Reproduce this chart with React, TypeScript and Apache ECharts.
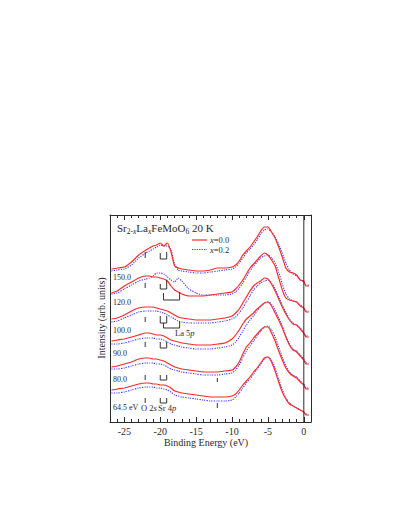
import React, { useEffect, useRef } from 'react';
import * as echarts from 'echarts';

// Binding energy grid (eV)
const energies = [-26.8, -26, -25, -24, -23, -22, -21.5, -21, -20.5, -20, -19.5, -19, -18.5, -18, -17.5, -17, -16, -15, -14, -13, -12, -11, -10, -9.5, -9, -8.5, -8, -7.5, -7, -6.5, -6, -5.5, -5, -4.5, -4, -3.5, -3, -2.5, -2, -1.5, -1, -0.5, 0, 0.3, 0.7];

// Photon energies (labels)
const photonLabels = ['150.0', '120.0', '100.0', '90.0', '80.0', '64.5 eV'];

// Intensities (arb. units, stacked), x = 0.0
const red150 = [153,154,155,160,167,172,174,176,177,179,176,179,170,156,154,153,152,151,151,152,154,154,155,157,161,167,171,175,180,185,191,195,195,190,184,175,165,154,150,149,147,142,141,136,136];
const red120 = [129,131,136,140,144,146,146,145,145,144,143,141,136,132,130,128,126,126,126,127,128,129,130,133,137,142,148,154,158,162,166,169,167,162,156,144,132,124,122,121,120,116,114,110,110];
const red100 = [103,104,107,111,114,115,115,115,114,113,112,111,109,107,105,104,103,102,102,102,103,104,106,109,113,119,125,131,136,139,141,144,143,138,131,123,115,108,102,98,97,93,89,85,85];
const red90 = [81,82,83,85,87,89,89,88,87,87,86,84,82,81,80,79,78,77,77,77,78,79,83,87,92,98,103,106,109,113,116,119,120,116,109,102,94,85,77,72,70,66,62,58,58];
const red80 = [55,56,58,60,63,64,64,63,63,62,61,59,57,55,54,53,52,51,50,50,50,51,52,55,60,68,75,79,84,88,92,95,95,89,81,71,62,54,49,46,44,40,37,33,33];
const red64 = [32,33,34,36,38,39,39,38,38,37,37,36,34,31,30,29,28,27,26,25,25,25,26,28,32,37,41,45,50,54,59,64,65,60,51,40,30,23,18,16,14,12,10,7,7];

// x = 0.2
const blue150 = [151,152,153,157,164,169,171,173,175,177,176,176,172,158,152,151,150,149,149,150,151,152,153,155,159,164,169,173,177,182,188,192,193,190,185,178,169,159,152,148,146,142,140,137,137];
const blue120 = [128,129,133,137,141,143,144,146,149,149,148,145,142,140,144,141,133,129,127,127,127,127,128,130,134,139,145,151,156,160,164,166,167,164,159,150,138,128,123,121,120,117,114,111,111];
const blue100 = [100,101,104,107,110,111,111,111,111,110,109,107,105,103,101,100,99,99,99,99,100,101,103,105,109,114,120,126,132,136,139,141,142,139,133,125,117,110,103,99,97,94,89,86,86];
const blue90 = [78,78,79,81,83,84,84,84,83,83,82,80,78,77,76,75,74,73,73,73,74,75,77,80,85,91,97,102,106,111,116,119,120,118,112,104,96,86,78,73,71,67,63,59,59];
const blue80 = [53,53,54,56,58,59,59,59,58,58,57,55,53,52,51,50,49,48,47,47,47,48,49,52,57,64,71,76,81,86,91,95,96,92,85,75,65,56,50,47,45,41,38,34,34];
const blue64 = [29,29,30,32,34,35,35,35,34,34,33,32,30,27,26,25,24,23,22,21,21,21,22,25,29,34,39,43,48,53,58,63,65,62,54,43,32,24,19,16,14,12,10,8,8];

const redSpectra = [red150, red120, red100, red90, red80, red64];
const blueSpectra = [blue150, blue120, blue100, blue90, blue80, blue64];

// Feature markers (energies in eV, intensity extents per spectrum)
const o2sEnergy = -22.1;
const o2sMarks = [[170, 164], [139, 134], [105, 100], [80, 75], [47, 42], [24, 19]];
const sr4pEnergies = [-20.0, -19.1];
const sr4pMarks = [[169, 163, 170], [138, 133, 142], [106, 99, 106], [80, 74, 80], [47, 42, 47], [24, 19, 24]];
const la5pEnergies = [-19.55, -17.3];
const la5pMarks = [[129, 122, 130], [99, 94, 100]];
const extraEnergy = -12.05;
const extraMarks = [[44, 40], [19, 14]];

// Axis ticks
const majorTicks = [-25, -20, -15, -10, -5, 0];
const minorTicks = [-26, -24, -23, -22, -21, -19, -18, -17, -16, -14, -13, -12, -11, -9, -8, -7, -6, -4, -3, -2, -1];

const legendNames = ['x=0.0', 'x=0.2'];

const SERIF = '"Liberation Serif", "DejaVu Serif", serif';
const INK = '#2a2a2a';
const RED = '#ff2a2a';
const BLUE = '#3b3bff';

export default function App() {
  const ref = useRef<HTMLDivElement>(null);
  useEffect(() => {
    if (!ref.current) return;
    const chart = echarts.init(ref.current, undefined, { renderer: 'svg' });

    const toPairs = (vals: number[]) => energies.map((e, i) => [e, vals[i]]);

    const markerCoords: any[] = [];
    o2sMarks.forEach(([t, b]) => markerCoords.push({ coords: [[o2sEnergy, t], [o2sEnergy, b]] }));
    sr4pMarks.forEach(([lt, b, rt]) =>
      markerCoords.push({ coords: [[sr4pEnergies[0], lt], [sr4pEnergies[0], b], [sr4pEnergies[1], b], [sr4pEnergies[1], rt]] })
    );
    la5pMarks.forEach(([lt, b, rt]) =>
      markerCoords.push({ coords: [[la5pEnergies[0], lt], [la5pEnergies[0], b], [la5pEnergies[1], b], [la5pEnergies[1], rt]] })
    );
    extraMarks.forEach(([t, b]) => markerCoords.push({ coords: [[extraEnergy, t], [extraEnergy, b]] }));

    const series: any[] = [];
    blueSpectra.forEach((s) =>
      series.push({
        name: legendNames[1],
        type: 'line',
        data: toPairs(s),
        showSymbol: false,
        symbol: 'none',
        smooth: 0.2,
        lineStyle: { color: BLUE, width: 1.1, type: [1.2, 1.2] },
        silent: true,
        z: 2,
      })
    );
    redSpectra.forEach((s) =>
      series.push({
        name: legendNames[0],
        type: 'line',
        data: toPairs(s),
        showSymbol: false,
        symbol: 'none',
        smooth: 0.2,
        lineStyle: { color: RED, width: 1.2 },
        silent: true,
        z: 3,
      })
    );
    series.push({
      type: 'lines',
      coordinateSystem: 'cartesian2d',
      polyline: true,
      silent: true,
      lineStyle: { color: '#333', width: 1, opacity: 1 },
      data: markerCoords,
      z: 4,
    });
    series.push({
      type: 'line',
      data: [[0, 0], [0, 207]],
      showSymbol: false,
      symbol: 'none',
      lineStyle: { color: INK, width: 1 },
      silent: true,
      z: 5,
    });

    const tickAxis = (pos: 'top' | 'bottom', values: number[], len: number, line: boolean, labels: boolean) => ({
      type: 'value',
      min: -27,
      max: 1,
      position: pos,
      axisLine: { show: line, onZero: false, lineStyle: { color: INK, width: 1 } },
      axisTick: { show: true, inside: true, length: len, customValues: values, lineStyle: { color: INK, width: 1 } },
      axisLabel: labels
        ? { show: true, customValues: values, fontFamily: SERIF, fontSize: 10, color: INK, margin: 4 }
        : { show: false },
      splitLine: { show: false },
    });

    const textEl = (x: number, y: number, text: string, opts: any = {}) => ({
      type: 'text',
      x,
      y,
      silent: true,
      style: {
        text,
        fill: INK,
        fontFamily: SERIF,
        fontSize: 8,
        textAlign: 'left',
        textVerticalAlign: 'middle',
        ...opts,
      },
    });

    const italicRich = (size: number) => ({
      n: { fontFamily: SERIF, fontSize: size, fill: INK },
      i: { fontFamily: SERIF, fontSize: size, fontStyle: 'italic', fill: INK },
    });

    const energyLabelY = [277, 302, 330, 353, 379, 407];

    const graphic: any[] = [
      textEl(117, 228, '{n|Sr}{s|2-}{si|x}{n|La}{si|x}{n|FeMoO}{s|6}{n| 20 K}', {
        rich: {
          n: { fontFamily: SERIF, fontSize: 11, fill: INK, lineHeight: 14 },
          s: { fontFamily: SERIF, fontSize: 7.5, fill: INK, lineHeight: 14, padding: [6, 0, 0, 0] },
          si: { fontFamily: SERIF, fontSize: 7.5, fontStyle: 'italic', fill: INK, lineHeight: 14, padding: [6, 0, 0, 0] },
        },
      }),
      ...photonLabels.map((l, i) => textEl(113, energyLabelY[i], l)),
      textEl(141, 408, '{n|O 2}{i|s}', { rich: italicRich(8.5) }),
      textEl(158, 408, '{n|Sr 4}{i|p}', { rich: italicRich(8.5) }),
      textEl(175, 333, '{n|La 5}{i|p}', { rich: italicRich(8.5) }),
      // legend
      { type: 'line', silent: true, shape: { x1: 192, y1: 240, x2: 207, y2: 240 }, style: { stroke: RED, lineWidth: 1.2 } },
      { type: 'line', silent: true, shape: { x1: 192, y1: 249.5, x2: 207, y2: 249.5 }, style: { stroke: BLUE, lineWidth: 1.1, lineDash: [1.2, 1.2] } },
      textEl(210, 240, '{i|x}{n|' + legendNames[0].slice(1) + '}', { rich: italicRich(8.5) }),
      textEl(210, 249.5, '{i|x}{n|' + legendNames[1].slice(1) + '}', { rich: italicRich(8.5) }),
      textEl(206, 442, 'Binding Energy (eV)', { textAlign: 'center', fontSize: 10 }),
      {
        type: 'text',
        x: 101,
        y: 318,
        rotation: Math.PI / 2,
        silent: true,
        style: {
          text: 'Intensity (arb. units)',
          fill: INK,
          fontFamily: SERIF,
          fontSize: 10,
          textAlign: 'center',
          textVerticalAlign: 'middle',
        },
      },
    ];

    chart.setOption({
      animation: false,
      grid: { left: 110, top: 215, width: 201, height: 207, containLabel: false },
      xAxis: [
        tickAxis('bottom', majorTicks, 5, true, true),
        tickAxis('bottom', minorTicks, 3, false, false),
        tickAxis('top', majorTicks, 5, true, false),
        tickAxis('top', minorTicks, 3, false, false),
      ],
      yAxis: [
        {
          type: 'value',
          min: 0,
          max: 207,
          position: 'left',
          axisLine: { show: true, onZero: false, lineStyle: { color: INK, width: 1 } },
          axisTick: { show: false },
          axisLabel: { show: false },
          splitLine: { show: false },
        },
        {
          type: 'value',
          min: 0,
          max: 207,
          position: 'right',
          axisLine: { show: true, onZero: false, lineStyle: { color: INK, width: 1 } },
          axisTick: { show: false },
          axisLabel: { show: false },
          splitLine: { show: false },
        },
      ],
      graphic,
      series,
    });
    return () => chart.dispose();
  }, []);
  return <div ref={ref} style={{ position: 'absolute', left: 0, top: 0, width: 409, height: 529 }} />;
}
